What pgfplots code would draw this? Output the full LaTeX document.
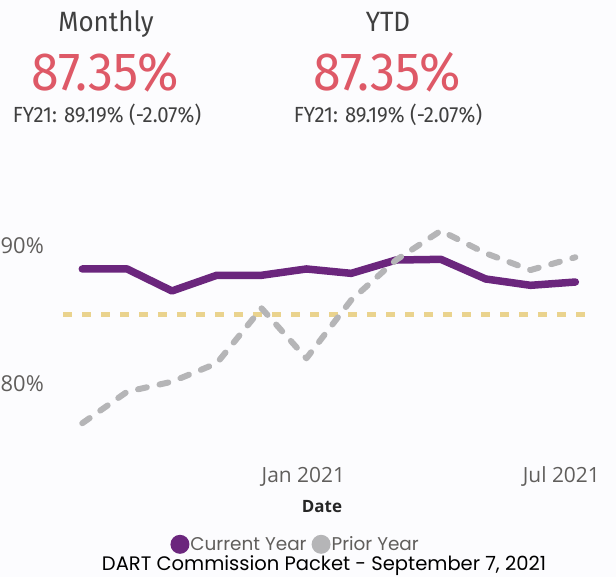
\documentclass[border=0pt]{standalone}
\usepackage{fontspec}
\usepackage{pgfplots}
\pgfplotsset{compat=1.18}
\setmainfont{Open Sans}
\newfontfamily\dinfont[FakeStretch=0.93]{Fira Sans}
\newfontfamily\gothic{Poppins}
\definecolor{cypurple}{RGB}{107,38,125}
\definecolor{pygray}{RGB}{181,181,183}
\definecolor{refyellow}{RGB}{234,211,142}
\definecolor{kpired}{RGB}{222,89,103}
\definecolor{tickgray}{RGB}{96,94,92}
\definecolor{headgray}{RGB}{64,64,64}
\definecolor{bg}{RGB}{252,252,254}
\begin{document}
\begin{tikzpicture}[x=1bp,y=1bp]
\useasboundingbox (0,0) rectangle (616,577);
\fill[bg] (0,0) rectangle (616,577);
% KPI cards
\node[anchor=base, inner sep=0pt, text=headgray] at (106,545) {\dinfont\fontsize{28}{30}\selectfont Monthly};
\node[anchor=base, inner sep=0pt, text=kpired] at (105,486) {\dinfont\fontsize{54}{56}\selectfont 87.35\%};
\node[anchor=base, inner sep=0pt, text=headgray] at (107,454) {\dinfont\fontsize{22}{24}\selectfont FY21: 89.19\% (-2.07\%)};
\node[anchor=base, inner sep=0pt, text=headgray] at (388,545) {\dinfont\fontsize{28}{30}\selectfont YTD};
\node[anchor=base, inner sep=0pt, text=kpired] at (387,486) {\dinfont\fontsize{54}{56}\selectfont 87.35\%};
\node[anchor=base, inner sep=0pt, text=headgray] at (388,454) {\dinfont\fontsize{22}{24}\selectfont FY21: 89.19\% (-2.07\%)};
\begin{axis}[
  at={(63bp,124.75bp)}, anchor=south west,
  scale only axis, width=524bp, height=247.5bp,
  xmin=-0.43, xmax=11.26, ymin=75, ymax=93,
  axis line style={draw=none}, tick style={draw=none},
  clip=false,
  ytick={80,90}, yticklabels={80\%,90\%},
  yticklabel style={anchor=east, inner sep=0pt, xshift=-19bp, text=tickgray, font=\fontsize{22}{24}\selectfont},
  xtick={5}, xticklabels={Jan 2021},
  xticklabel style={anchor=base, inner sep=0pt, yshift=-30.75bp, xshift=-3bp, text=tickgray, font=\fontsize{21}{23}\selectfont},
  extra x ticks={11}, extra x tick labels={Jul 2021},
  extra x tick style={xticklabel style={xshift=-11bp}},
  legend style={at={(0.443,-0.372)}, anchor=center, draw=none, fill=none,
    legend columns=-1, font=\gothic\fontsize{18.5}{20}\selectfont, text=tickgray,
    /tikz/every even column/.append style={column sep=4bp},
    nodes={inner sep=1bp}},
]
\addplot[refyellow, line width=5bp, dash pattern=on 9bp off 10bp, forget plot]
  coordinates {(-0.43,85) (11.26,85)};
\addplot[cypurple, line width=7.5bp, line cap=round, line join=round,
  legend image code/.code={\fill[cypurple, solid, draw=none] (0bp,0bp) circle (9.5bp);}]
  coordinates {
  (0,88.33) (1,88.33) (2,86.73) (3,87.87) (4,87.87) (5,88.33)
  (6,88.01) (7,88.98) (8,89.03) (9,87.60) (10,87.14) (11,87.38)};
\addlegendentry{Current Year}
\addplot[pygray, line width=6bp, line cap=round, line join=round, dash pattern=on 9bp off 13bp,
  legend image code/.code={\fill[pygray, solid, draw=none] (0bp,0bp) circle (9.5bp);}]
  coordinates {
  (0,77.11) (1,79.40) (2,80.13) (3,81.47) (4,85.47) (5,81.83)
  (6,86.07) (7,88.98) (8,91.11) (9,89.47) (10,88.25) (11,89.18)};
\addlegendentry{Prior Year}
\end{axis}
\node[anchor=base, inner sep=0pt, text=black!85] at (322,64) {\bfseries\fontsize{17}{19}\selectfont Date};
\node[anchor=base, inner sep=0pt, text=black] at (324,6) {\gothic\fontsize{19.6}{22}\selectfont DART Commission Packet - September 7, 2021};
\end{tikzpicture}
\end{document}
